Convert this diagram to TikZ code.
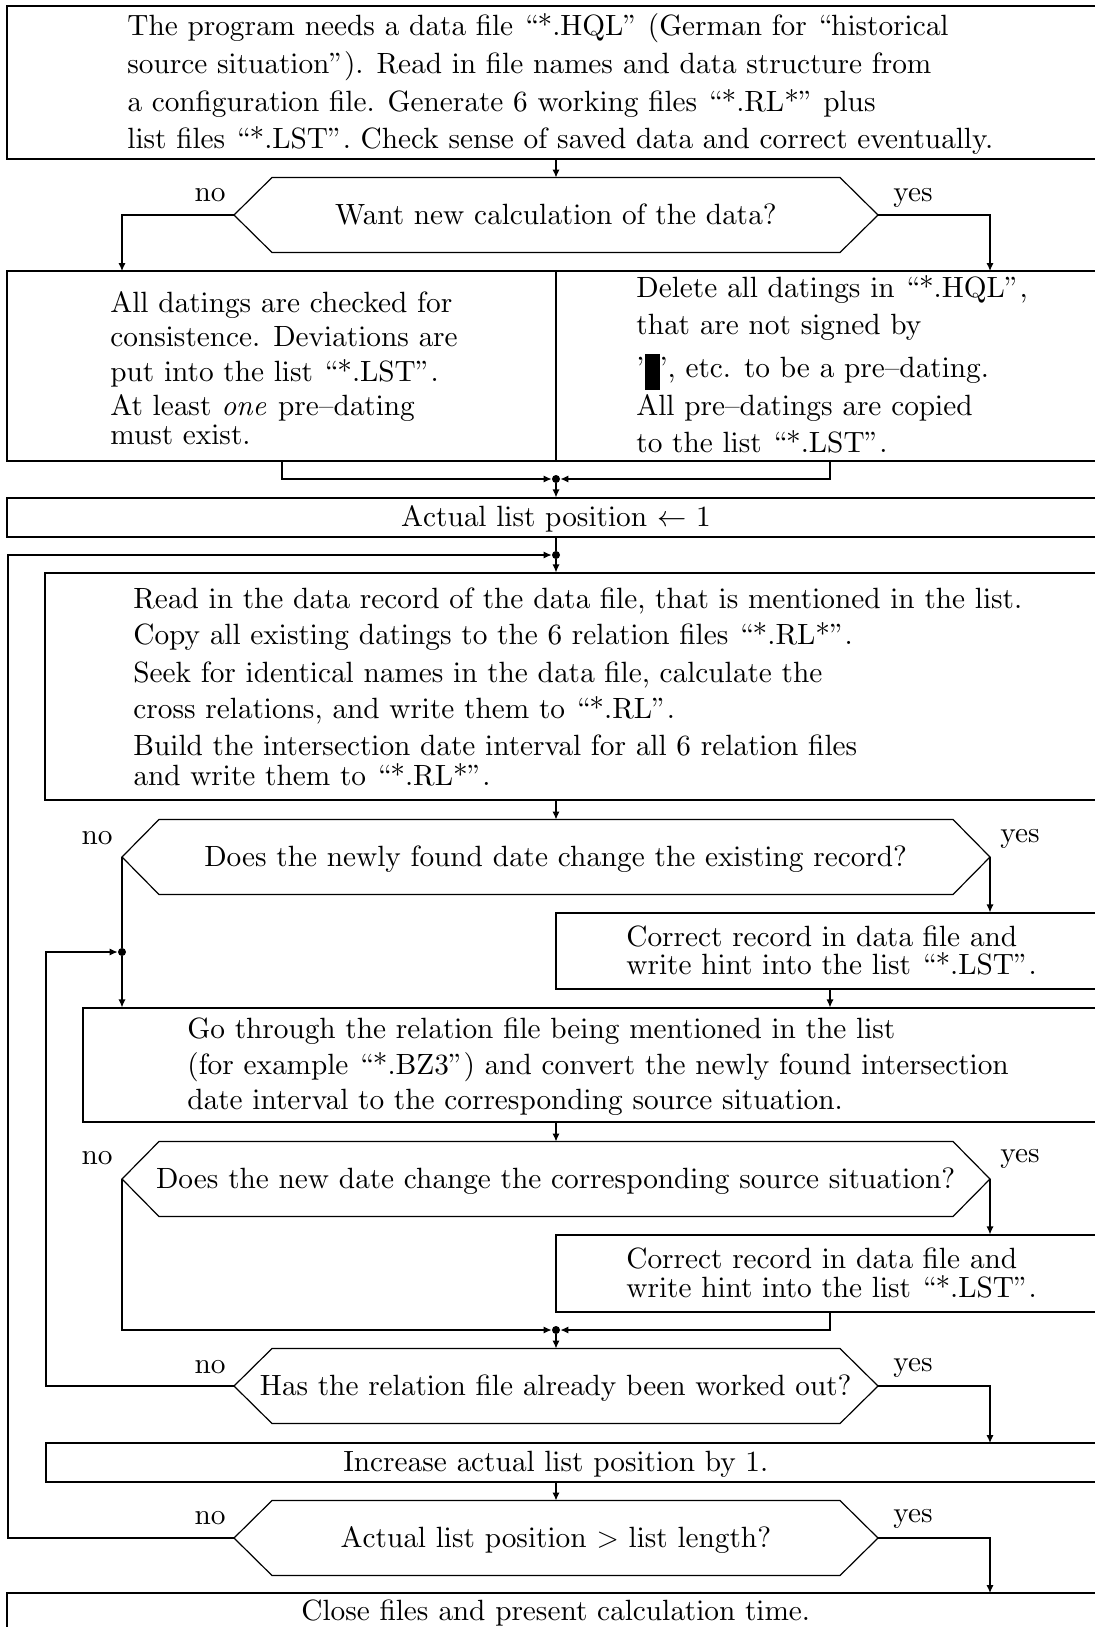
\documentclass[tikz,border=0pt]{standalone}
\usepackage[OT1]{fontenc}
\renewcommand{\rmdefault}{cmr}
\usepackage{fix-cm}
\DeclareFontFamily{OT1}{cmr}{\hyphenchar\font45 }
\DeclareFontShape{OT1}{cmr}{m}{n}{<-> cmr10}{}
\DeclareFontShape{OT1}{cmr}{m}{it}{<-> cmti10}{}
\usetikzlibrary{arrows.meta,calc,fit}
\begin{document}
\begin{tikzpicture}[x=0.5pt,y=-0.5pt,
  every node/.style={font=\fontsize{14.65}{17}\selectfont},
  line/.style={line width=0.6pt},
  arr/.style={line width=0.6pt,-{Latex[length=4pt,width=3.6pt]}},
  box/.style={draw,line width=0.6pt,inner sep=0pt},
  tl/.style={anchor=mid west,inner sep=0pt,yshift=-2.7pt},
  ct/.style={anchor=mid,inner sep=0pt,yshift=-2.7pt},
  lab/.style={anchor=mid,inner sep=0pt,yshift=-1.6pt},
  jdot/.style={circle,fill,inner sep=0pt,minimum size=4pt}]
\useasboundingbox (0,0) rectangle (1095,1627);
\clip (0,0) rectangle (1095,1627);

% ---------- boxes ----------
\node[box,fit={(7,6) (1130,159)}] (b1) {};
\node[box,fit={(7,271) (1130,461)}] (b2) {};
\node[box,fit={(7,498) (1130,537)}] (b3) {};
\node[box,fit={(45,573) (1130,800)}] (b4) {};
\node[box,fit={(556,913) (1130,989)}] (b5) {};
\node[box,fit={(83,1008) (1130,1122)}] (b6) {};
\node[box,fit={(556,1235) (1130,1312)}] (b7) {};
\node[box,fit={(46,1443) (1130,1482)}] (b8) {};
\node[box,fit={(7,1593) (1130,1660)}] (b9) {};

% ---------- hexagons ----------
\foreach \n/\cy/\hp/\hc in {1/215/322/284, 2/857/434/397, 3/1179/434/397, 4/1386/322/284, 5/1538/322/284}{
  \coordinate (q\n w) at (556-\hp,\cy);
  \coordinate (q\n e) at (556+\hp,\cy);
  \coordinate (q\n n) at (556,\cy-37.5);
  \coordinate (q\n s) at (556,\cy+37.5);
  \draw[line] (q\n w) -- (556-\hc,\cy-37.5) -- (556+\hc,\cy-37.5) -- (q\n e)
     -- (556+\hc,\cy+37.5) -- (556-\hc,\cy+37.5) -- cycle;
}

% ---------- texts ----------
\node[tl] (t11) at (127,26) {The program needs a data file ``*.HQL'' (German for ``historical};
\node[tl] (t12) at (127,64) {source situation''). Read in file names and data structure from};
\node[tl] (t13) at (127,102) {a configuration file. Generate 6 working files ``*.RL*'' plus};
\node[tl] (t14) at (127,139) {list files ``*.LST''. Check sense of saved data and correct eventually.};

\node[ct] (q1) at (556,215) {Want new calculation of the data?};

\node[tl] (t21) at (110,303) {All datings are checked for};
\node[tl] (t22) at (110,337) {consistence. Deviations are};
\node[tl] (t23) at (110,372) {put into the list ``*.LST''.};
\node[tl] (t24) at (110,406) {At least \emph{one} pre--dating};
\node[tl] (t25) at (110,435) {must exist.};

\node[tl] (t31) at (636,288) {Delete all datings in ``*.HQL'',};
\node[tl] (t32) at (636,325) {that are not signed by};
\node[tl] (t33) at (636,368) {'\rule[-6.2pt]{7.5pt}{18.1pt}', etc. to be a pre--dating.};
\node[tl] (t34) at (636,406) {All pre--datings are copied};
\node[tl] (t35) at (636,443) {to the list ``*.LST''.};

\node[ct] (t4) at (556,517) {Actual list position $\leftarrow$ 1};

\node[tl] (t51) at (133,599) {Read in the data record of the data file, that is mentioned in the list.};
\node[tl] (t52) at (133,635) {Copy all existing datings to the 6 relation files ``*.RL*''.};
\node[tl] (t53) at (133,673) {Seek for identical names in the data file, calculate the};
\node[tl] (t54) at (133,709) {cross relations, and write them to ``*.RL''.};
\node[tl] (t55) at (133,746) {Build the intersection date interval for all 6 relation files};
\node[tl] (t56) at (133,776) {and write them to ``*.RL*''.};

\node[ct] (q2) at (556,857) {Does the newly found date change the existing record?};

\node[tl] (t61) at (626,937) {Correct record in data file and};
\node[tl] (t62) at (626,965) {write hint into the list ``*.LST''.};

\node[tl] (t71) at (187,1029) {Go through the relation file being mentioned in the list};
\node[tl] (t72) at (187,1065) {(for example ``*.BZ3'') and convert the newly found intersection};
\node[tl] (t73) at (187,1100) {date interval to the corresponding source situation.};

\node[ct] (q3) at (556,1179) {Does the new date change the corresponding source situation?};

\node[tl] (t81) at (626,1259) {Correct record in data file and};
\node[tl] (t82) at (626,1288) {write hint into the list ``*.LST''.};

\node[ct] (q4) at (556,1386) {Has the relation file already been worked out?};
\node[ct] (t9) at (556,1462) {Increase actual list position by 1.};
\node[ct] (q5) at (556,1538) {Actual list position $>$ list length?};
\node[ct] (t10) at (556,1611) {Close files and present calculation time.};

% ---------- yes / no labels ----------
\node[lab] (n1) at (210,194) {no};   \node[lab] (y1) at (913,194) {yes};
\node[lab] (n2) at (97,837) {no};    \node[lab] (y2) at (1020,835) {yes};
\node[lab] (n3) at (97,1157) {no};   \node[lab] (y3) at (1020,1155) {yes};
\node[lab] (n4) at (210,1366) {no};  \node[lab] (y4) at (913,1364) {yes};
\node[lab] (n5) at (210,1517) {no};  \node[lab] (y5) at (913,1515) {yes};

% ---------- junctions and end points ----------
\node[jdot] (j1) at (556,479) {};
\node[jdot] (j2) at (556,555) {};
\node[jdot] (j3) at (122,952) {};
\node[jdot] (j4) at (556,1330) {};
\coordinate (b2nl) at (122,271);
\coordinate (b2nr) at (990,271);
\coordinate (b2sl) at (282,461);
\coordinate (b2sr) at (830,461);
\coordinate (l1t) at (8,555);
\coordinate (l2t) at (46,952);
\coordinate (b5s) at (830,989);
\coordinate (b7s) at (830,1312);
\coordinate (b8n) at (990,1443);
\coordinate (b9n) at (990,1593);

% ---------- connectors ----------
\draw[line] (b2.north -| q1n) -- (b2.south -| q1n);
\draw[arr] (b1.south -| q1n) -- (q1n);
\draw[arr] (q1w) -| (b2nl);
\draw[arr] (q1e) -| (b2nr);
\draw[arr] (b2sl) |- (j1);
\draw[arr] (b2sr) |- (j1);
\draw[arr] (j1) -- (b3.north -| j1);
\draw[line] (b3.south -| j2) -- (j2);
\draw[arr] (q5w) -| (l1t) -- (j2);
\draw[arr] (j2) -- (b4.north -| j2);
\draw[arr] (b4.south -| q2n) -- (q2n);
\draw[arr] (q2e) -- (q2e |- b5.north);
\draw[line] (q2w) -- (j3);
\draw[arr] (j3) -- (b6.north -| j3);
\draw[arr] (q4w) -| (l2t) -- (j3);
\draw[arr] (b5s) -- (b5s |- b6.north);
\draw[arr] (b6.south -| q3n) -- (q3n);
\draw[arr] (q3e) -- (q3e |- b7.north);
\draw[arr] (q3w) |- (j4);
\draw[arr] (b7s) |- (j4);
\draw[arr] (j4) -- (q4n);
\draw[arr] (q4e) -| (b8n);
\draw[arr] (b8.south -| q5n) -- (q5n);
\draw[arr] (q5e) -| (b9n);
\end{tikzpicture}
\end{document}
